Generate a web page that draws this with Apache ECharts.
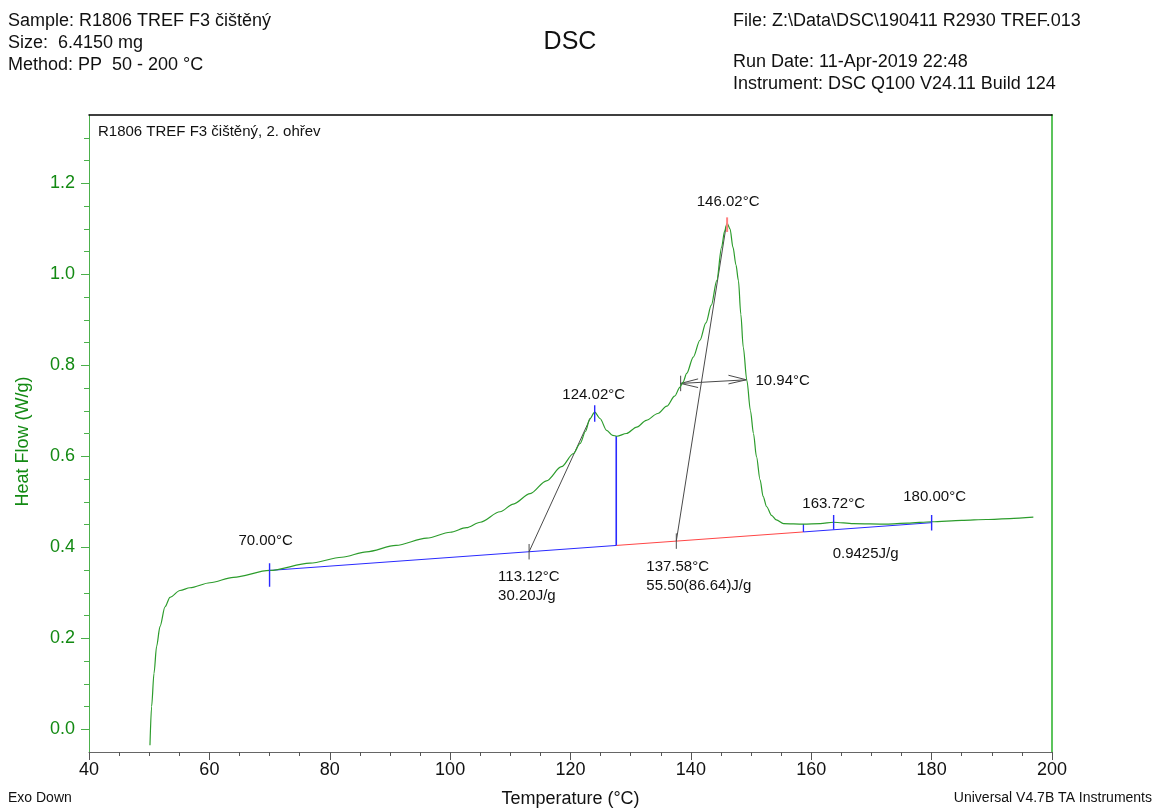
<!DOCTYPE html>
<html>
<head>
<meta charset="utf-8">
<script src="https://cdn.jsdelivr.net/npm/echarts@6/dist/echarts.min.js"></script>
<style>
  html, body { margin: 0; padding: 0; background: #fff; }
  #chart { width: 1156px; height: 810px; }
</style>
</head>
<body>
<div id="chart"></div>
<script>
// DSC second heating: heat flow (W/g) against temperature (°C)
const tempC = [
  50.13, 50.40, 50.80, 51.23, 51.80, 52.63, 53.46, 55.12, 56.78, 60.10,
  64.0, 70.0, 76.7, 82.0, 86.1, 91.0, 96.1, 100.0, 102.7, 105.0,
  108.3, 110.5, 113.3, 116.0, 118.5, 120.5, 121.6, 122.5, 123.2, 124.02,
  124.9, 126.0, 127.0, 127.7, 129.3, 131.0, 132.6, 134.5, 136.0, 137.3,
  138.2, 138.7, 139.3, 140.4, 141.5, 142.5, 143.4, 144.3, 145.1, 145.6,
  146.02, 146.5, 147.0, 147.5, 147.9, 148.3, 148.7, 149.3, 149.9, 150.4,
  150.9, 151.5, 152.0, 152.6, 153.4, 154.2, 155.4, 158.7, 161.5, 163.7,
  167.0, 172.5, 176.0, 180.0, 185.0, 189.1, 193.0, 196.9
];
const heatFlow = [
  -0.035, 0.050, 0.123, 0.182, 0.226, 0.269, 0.290, 0.305, 0.311, 0.322,
  0.334, 0.349, 0.365, 0.378, 0.390, 0.404, 0.420, 0.433, 0.443, 0.455,
  0.478, 0.495, 0.518, 0.546, 0.577, 0.606, 0.628, 0.655, 0.682, 0.697,
  0.683, 0.657, 0.646, 0.644, 0.650, 0.664, 0.679, 0.694, 0.710, 0.732,
  0.752, 0.763, 0.782, 0.818, 0.855, 0.893, 0.932, 0.986, 1.059, 1.095,
  1.112, 1.100, 1.059, 1.020, 0.986, 0.912, 0.840, 0.767, 0.700, 0.650,
  0.599, 0.548, 0.512, 0.489, 0.470, 0.460, 0.452, 0.451, 0.452, 0.455,
  0.452, 0.451, 0.453, 0.456, 0.459, 0.461, 0.463, 0.466
];

// axis ticks
const xTicks = [40, 60, 80, 100, 120, 140, 160, 180, 200];
const yTicks = [0.0, 0.2, 0.4, 0.6, 0.8, 1.0, 1.2];
const yMinorTicks = Array.from({ length: 27 }, (_, i) => +(i * 0.05).toFixed(2));

// integration: linear baseline between the limits, split by perpendicular drops
const limitTemps = [70.00, 180.00];
const limitFlow = [0.349, 0.454];
const dropTemps = [127.6, 158.7];
const peakTemps = [124.02, 146.02, 163.72];
const onsetTemps = [113.12, 137.58];
const tangentEnds = [123.3, 145.85];
const enthalpyTexts = ['30.20J/g', '55.50(86.64)J/g', '0.9425J/g'];
// peak width at half height
const widthStart = 138.30;
const peakWidth = 10.94;
const widthFlow = [0.760, 0.768];

const BLUE = '#2a2aff', RED = '#ff4646', PINK = '#ff8080', GREY = '#4a4a4a';
const CURVE = '#2c9c2c', AXIS_GREEN = '#4cb04c', GREEN_TEXT = '#138a13';
const FONT = '"Liberation Sans", Arial, sans-serif';

function baseAt(t) {
  const [t0, t1] = limitTemps, [y0, y1] = limitFlow;
  return y0 + (t - t0) * (y1 - y0) / (t1 - t0);
}
function curveAt(t) {
  for (let i = 1; i < tempC.length; i++) {
    if (t <= tempC[i]) {
      const f = (t - tempC[i - 1]) / (tempC[i] - tempC[i - 1]);
      return heatFlow[i - 1] + f * (heatFlow[i] - heatFlow[i - 1]);
    }
  }
  return heatFlow[heatFlow.length - 1];
}
const vtick = (t, yc, half) => [[t, yc - half], [t, yc + half]];
function seg(data, color, width, z) {
  return { type: 'line', data, symbol: 'none', silent: true, animation: false,
           color, itemStyle: { color }, lineStyle: { color, width: width || 1 }, z: z || 3 };
}

const series = [
  // baseline segments
  seg([[limitTemps[0], baseAt(limitTemps[0])], [dropTemps[0], baseAt(dropTemps[0])]], BLUE),
  seg([[dropTemps[0], baseAt(dropTemps[0])], [dropTemps[1], baseAt(dropTemps[1])]], RED),
  seg([[dropTemps[1], baseAt(dropTemps[1])], [limitTemps[1], baseAt(limitTemps[1])]], BLUE),
  // perpendicular drops
  seg([[dropTemps[0], baseAt(dropTemps[0])], [dropTemps[0], curveAt(dropTemps[0])]], BLUE, 1.6),
  seg([[dropTemps[1], baseAt(dropTemps[1])], [dropTemps[1], curveAt(dropTemps[1])]], BLUE, 1.3),
  // limit and peak markers
  seg(vtick(limitTemps[0], baseAt(limitTemps[0]) - 0.010, 0.026), BLUE, 1.4, 6),
  seg(vtick(limitTemps[1], baseAt(limitTemps[1]), 0.017), BLUE, 1.4, 6),
  seg(vtick(peakTemps[0], curveAt(peakTemps[0]) - 0.003, 0.018), BLUE, 1.4, 6),
  seg(vtick(peakTemps[1], curveAt(peakTemps[1]) - 0.003, 0.016), PINK, 2, 6),
  seg(vtick(peakTemps[2], curveAt(peakTemps[2]), 0.016), BLUE, 1.4, 6),
  // onset tangents
  seg([[onsetTemps[0], baseAt(onsetTemps[0])], [tangentEnds[0], curveAt(tangentEnds[0])]], GREY),
  seg(vtick(onsetTemps[0], baseAt(onsetTemps[0]), 0.017), GREY),
  seg([[onsetTemps[1], baseAt(onsetTemps[1])], [tangentEnds[1], curveAt(tangentEnds[1])]], GREY),
  seg(vtick(onsetTemps[1], baseAt(onsetTemps[1]), 0.017), GREY),
  // width arrow
  seg([[widthStart, widthFlow[0]], [widthStart + peakWidth, widthFlow[1]]], GREY),
  seg(vtick(widthStart, widthFlow[0], 0.017), GREY),
  seg([[widthStart + 2.9, widthFlow[0] + 0.010], [widthStart, widthFlow[0]], [widthStart + 2.9, widthFlow[0] - 0.009]], GREY),
  seg([[widthStart + peakWidth - 3.0, widthFlow[1] + 0.010], [widthStart + peakWidth, widthFlow[1]], [widthStart + peakWidth - 3.0, widthFlow[1] - 0.009]], GREY),
  // measured curve
  { type: 'line', name: 'Heat Flow', data: tempC.map((t, i) => [t, heatFlow[i]]),
    symbol: 'none', smooth: 0.3, smoothMonotone: 'x', silent: true,
    color: CURVE, lineStyle: { color: CURVE, width: 1.2 }, z: 5 }
];

const headerText = (text, x, y, size, align) => ({
  type: 'text', silent: true,
  style: { text, x, y, font: size + 'px ' + FONT, fill: '#111', align: align || 'left', verticalAlign: 'middle' }
});

const option = {
  animation: false,
  backgroundColor: '#fff',
  textStyle: { fontFamily: FONT },
  grid: { left: 89, right: 104, top: 115, bottom: 58, containLabel: false, outerBoundsMode: 'none' },
  xAxis: [
    { type: 'value', min: xTicks[0], max: xTicks[xTicks.length - 1], interval: 20, position: 'bottom',
      axisLine: { show: true, onZero: false, lineStyle: { color: '#666', width: 1 } },
      axisTick: { show: true, length: 8, lineStyle: { color: '#555' } },
      minorTick: { show: true, splitNumber: 4, length: 4, lineStyle: { color: '#555' } },
      axisLabel: { customValues: xTicks, color: '#111', fontSize: 18, margin: 9, formatter: v => String(v) },
      splitLine: { show: false }, minorSplitLine: { show: false },
      name: 'Temperature (°C)', nameLocation: 'middle', nameGap: 38,
      nameTextStyle: { color: '#111', fontSize: 18 } },
    { type: 'value', min: xTicks[0], max: xTicks[xTicks.length - 1], position: 'top',
      axisLine: { show: true, onZero: false, lineStyle: { color: '#000', width: 1.5 } },
      axisTick: { show: false }, axisLabel: { show: false }, splitLine: { show: false } }
  ],
  yAxis: [
    { type: 'value', min: -0.05, max: 1.35, position: 'left',
      axisLine: { show: true, onZero: false, lineStyle: { color: AXIS_GREEN } },
      axisTick: { show: true, length: 5, customValues: yMinorTicks, lineStyle: { color: AXIS_GREEN } },
      axisLabel: { customValues: yTicks, formatter: v => v.toFixed(1), color: GREEN_TEXT, fontSize: 18, margin: 14 },
      splitLine: { show: false },
      name: 'Heat Flow (W/g)', nameLocation: 'middle', nameGap: 57, nameRotate: 90,
      nameTextStyle: { color: GREEN_TEXT, fontSize: 18, padding: [0, 16, 0, 0] } },
    { type: 'value', min: -0.05, max: 1.35, position: 'left', offset: 0,
      axisLine: { show: false },
      axisTick: { show: true, length: 8, customValues: yTicks, lineStyle: { color: AXIS_GREEN } },
      axisLabel: { show: false }, splitLine: { show: false } },
    { type: 'value', min: -0.05, max: 1.35, position: 'right',
      axisLine: { show: true, onZero: false, lineStyle: { color: '#5cc45c', width: 2 } },
      axisTick: { show: false }, axisLabel: { show: false }, splitLine: { show: false } }
  ],
  series,
  graphic: [
    headerText('Sample: R1806 TREF F3 čištěný', 8, 21, 18),
    headerText('Size:  6.4150 mg', 8, 43, 18),
    headerText('Method: PP  50 - 200 °C', 8, 65, 18),
    headerText('DSC', 570, 42, 25, 'center'),
    headerText('File: Z:\\Data\\DSC\\190411 R2930 TREF.013', 733, 21, 18),
    headerText('Run Date: 11-Apr-2019 22:48', 733, 62, 18),
    headerText('Instrument: DSC Q100 V24.11 Build 124', 733, 84, 18),
    headerText('R1806 TREF F3 čištěný, 2. ohřev', 98, 132, 15),
    headerText('Exo Down', 8, 798, 14),
    headerText('Universal V4.7B TA Instruments', 1152, 798, 14, 'right')
  ]
};

const chart = echarts.init(document.getElementById('chart'), null, { renderer: 'canvas' });
chart.setOption(option);

// annotation texts anchored to data points
const fmtT = t => t.toFixed(2) + '°C';
const notes = [
  { text: fmtT(limitTemps[0]), at: [limitTemps[0], baseAt(limitTemps[0])], dx: -4, dy: -30, align: 'center' },
  { text: fmtT(onsetTemps[0]), at: [onsetTemps[0], baseAt(onsetTemps[0])], dx: -31, dy: 25, align: 'left' },
  { text: enthalpyTexts[0], at: [onsetTemps[0], baseAt(onsetTemps[0])], dx: -31, dy: 44, align: 'left' },
  { text: fmtT(peakTemps[0]), at: [peakTemps[0], curveAt(peakTemps[0])], dx: -1, dy: -17, align: 'center' },
  { text: fmtT(onsetTemps[1]), at: [onsetTemps[1], baseAt(onsetTemps[1])], dx: -30, dy: 26, align: 'left' },
  { text: enthalpyTexts[1], at: [onsetTemps[1], baseAt(onsetTemps[1])], dx: -30, dy: 45, align: 'left' },
  { text: fmtT(peakTemps[1]), at: [peakTemps[1], curveAt(peakTemps[1])], dx: 1, dy: -21, align: 'center' },
  { text: fmtT(peakWidth), at: [widthStart + peakWidth, widthFlow[1]], dx: 9, dy: 1, align: 'left' },
  { text: fmtT(peakTemps[2]), at: [peakTemps[2], curveAt(peakTemps[2])], dx: 0, dy: -18, align: 'center' },
  { text: enthalpyTexts[2], at: [peakTemps[2], curveAt(peakTemps[2])], dx: -1, dy: 32, align: 'left' },
  { text: fmtT(limitTemps[1]), at: [limitTemps[1], baseAt(limitTemps[1])], dx: 3, dy: -26, align: 'center' }
];
const noteGraphics = notes.map(n => {
  const p = chart.convertToPixel({ xAxisIndex: 0, yAxisIndex: 0 }, n.at);
  return { type: 'text', silent: true, z: 10,
    style: { text: n.text, x: p[0] + n.dx, y: p[1] + n.dy, font: '15px ' + FONT,
             fill: '#111', align: n.align, verticalAlign: 'middle' } };
});
chart.setOption({ graphic: option.graphic.concat(noteGraphics) });
</script>
</body>
</html>
